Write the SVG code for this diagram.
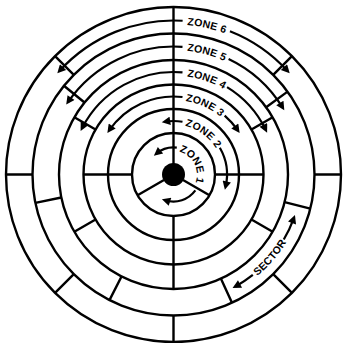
<svg xmlns="http://www.w3.org/2000/svg" width="343" height="343" viewBox="0 0 343 343">
<defs>
<style>
.ln{fill:none;stroke:#000;stroke-width:2.4}
.ar{fill:none;stroke:#000;stroke-width:2.2;marker-end:url(#ah)}
.lb{font-family:"Liberation Sans",Arial,sans-serif;font-weight:bold;font-size:10.5px;letter-spacing:0.2px;fill:#000}
</style>
<marker id="ah" viewBox="0 0 10 10" refX="6" refY="5" markerWidth="10.5" markerHeight="8.5" markerUnits="userSpaceOnUse" orient="auto"><path d="M0,0 L10,5 L0,10 z" fill="#000"/></marker>
<path id="tp6" d="M187.11,24.92 A150.2,150.2 0 0 1 270.05,59.45"/>
<path id="tp5" d="M186.94,50.83 A124.4,124.4 0 0 1 268.79,94.54"/>
<path id="tp4" d="M186.92,76.51 A98.9,98.9 0 0 1 259.15,125.05"/>
<path id="tp3" d="M185.52,101.08 A74.4,74.4 0 0 1 243.41,149.05"/>
<path id="tp2" d="M185.06,125.96 A49.9,49.9 0 0 1 223.4,174.5"/>
<path id="tp1" d="M179.16,151.80 A23.4,23.4 0 0 1 191.43,189.54"/>
<path id="tps" d="M257.21,276.04 A131.6,131.6 0 0 0 303.10,197.35"/>
</defs>
<rect width="343" height="343" fill="#fff"/>
<g id="rings" class="ln">
<circle cx="173.5" cy="174.5" r="167.5"/>
<circle cx="173.5" cy="174.5" r="141"/>
<circle cx="173.5" cy="174.5" r="114.5"/>
<circle cx="173.5" cy="174.5" r="90"/>
<circle cx="173.5" cy="174.5" r="65.5"/>
<circle cx="173.5" cy="174.5" r="41.5"/>
</g>
<g id="dividers" class="ln">
<path d="M173.5,174.5 V7"/>
<path d="M183.03,180 L209.44,195.25 M163.97,180 L137.56,195.25"/>
<path d="M83.5,174.5 H132 M215,174.5 H263.5 M173.5,216 V289"/>
<path d="M251.44,129.5 L272.66,117.25 M251.44,219.5 L272.66,231.75 M95.56,219.5 L74.34,231.75 M95.56,129.5 L74.34,117.25"/>
<path d="M266.13,107.2 L287.57,91.62 M284.6,202.2 L310.31,208.61 M220.98,278.7 L231.97,302.81 M121.52,276.52 L109.49,300.13 M61.34,197.53 L35.38,202.86 M84.52,102.45 L63.93,85.77"/>
<path d="M273.2,74.8 L291.94,56.06 M273.2,274.2 L291.94,292.94 M73.8,274.2 L55.06,292.94 M73.8,74.8 L55.06,56.06 M6,174.5 H32.5 M314.5,174.5 H341 M173.5,315.5 V342"/>
</g>
<circle id="hub" cx="173.5" cy="174.5" r="11.5" fill="#000"/>
<g id="zone6">
<path class="ar" d="M182.63,20.77 A154,154 0 0 0 59.60,70.86"/>
<path class="ar" d="M229.94,31.22 A154,154 0 0 1 287.40,70.86"/>
<text class="lb"><textPath href="#tp6">ZONE 6</textPath></text>
</g>
<g id="zone5">
<path class="ar" d="M182.5,46.82 A128,128 0 0 0 68.14,101.82"/>
<path class="ar" d="M228.60,58.97 A128,128 0 0 1 282.52,107.43"/>
<text class="lb"><textPath href="#tp5">ZONE 5</textPath></text>
</g>
<g id="zone4">
<path class="ar" d="M182.5,72.40 A102.5,102.5 0 0 0 82.17,127.97"/>
<path class="ar" d="M227.06,87.11 A102.5,102.5 0 0 1 265.63,129.57"/>
<text class="lb"><textPath href="#tp4">ZONE 4</textPath></text>
</g>
<g id="zone3">
<path class="ar" d="M182.5,97.02 A78,78 0 0 0 109.30,130.21"/>
<path class="ar" d="M224.67,115.63 A78,78 0 0 1 237.70,130.21"/>
<text class="lb"><textPath href="#tp3">ZONE 3</textPath></text>
</g>
<g id="zone2">
<path class="ar" d="M182.5,121.76 A53.5,53.5 0 0 0 165.13,121.66"/>
<path class="ar" d="M219.83,147.75 A53.5,53.5 0 0 1 225.63,186.54"/>
<text class="lb"><textPath href="#tp2">ZONE 2</textPath></text>
</g>
<g id="zone1">
<path class="ar" d="M176.79,147.70 A27,27 0 0 0 156.51,153.52"/>
<path class="ar" d="M195.34,190.37 A27,27 0 0 1 165.16,200.18"/>
<text class="lb"><textPath href="#tp1">ZONE 1</textPath></text>
</g>
<g id="sector">
<path class="ar" d="M252.83,274.95 A128,128 0 0 1 235.55,286.45"/>
<path class="ar" d="M283.78,239.46 A128,128 0 0 0 293.78,218.28"/>
<text class="lb"><textPath href="#tps">SECTOR</textPath></text>
</g>
</svg>
